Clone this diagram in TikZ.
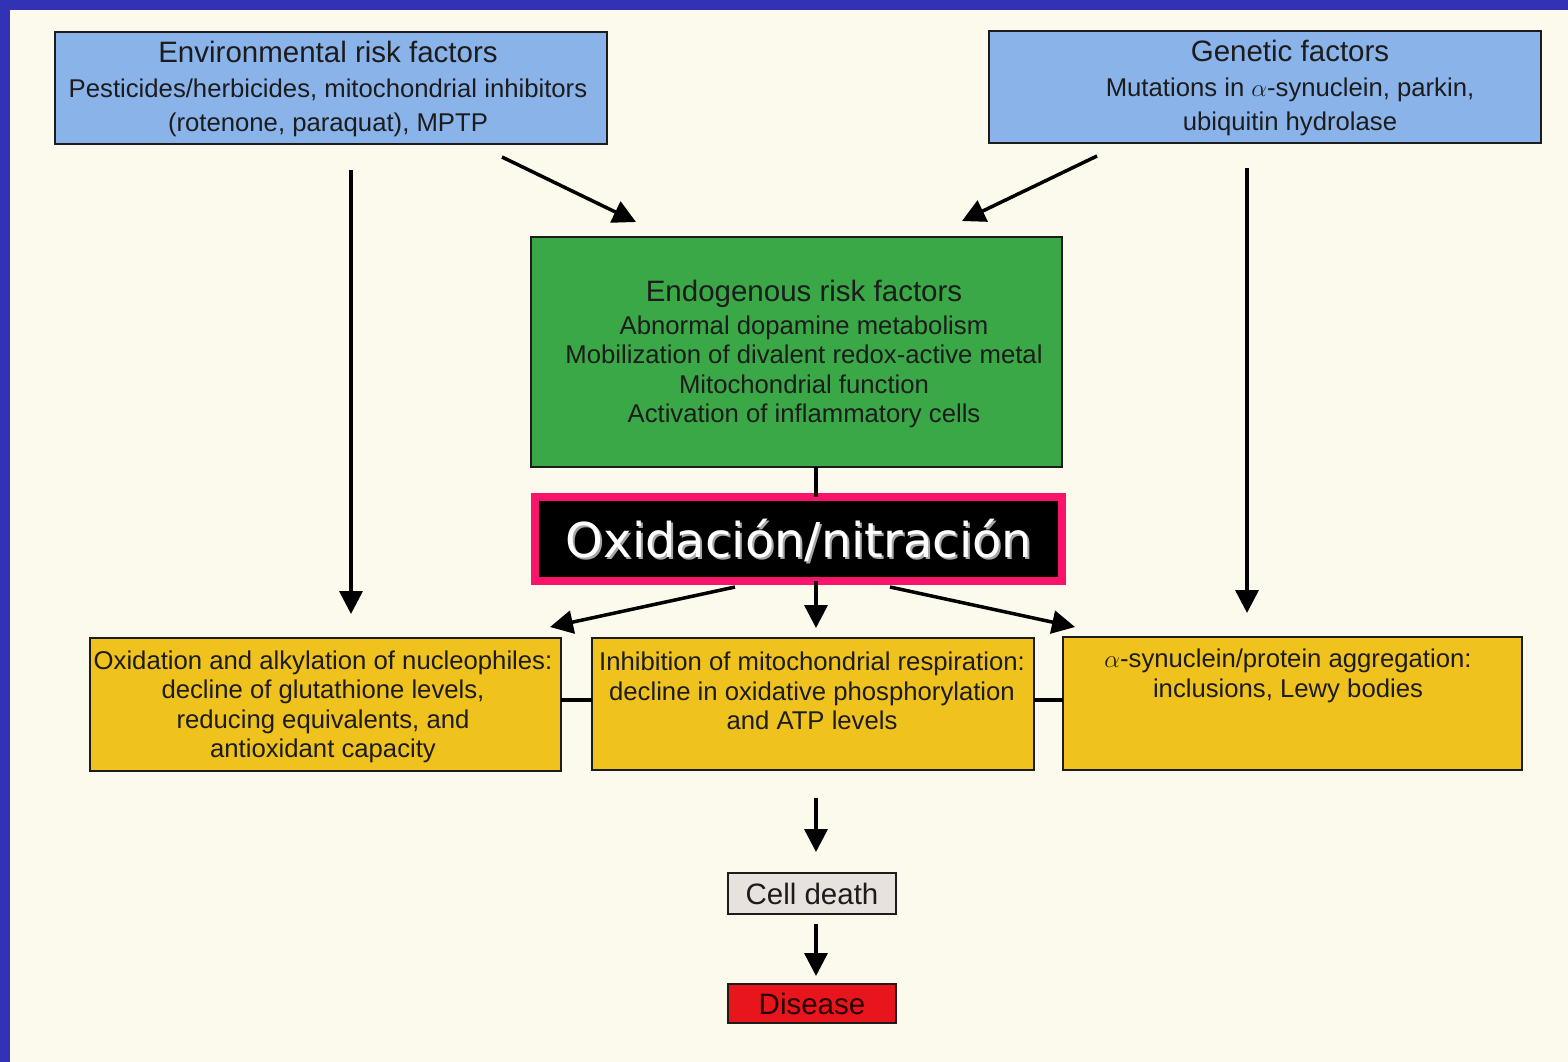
\documentclass[tikz,border=0pt]{standalone}
\usepackage{fontspec}
\setmainfont{Liberation Sans}
\newfontfamily\oxfont{DejaVu Sans}
\usetikzlibrary{arrows.meta,calc}

\definecolor{framebl}{HTML}{3232B4}
\definecolor{paper}{HTML}{FCFAEC}
\definecolor{skyfill}{HTML}{8AB3EA}
\definecolor{leaf}{HTML}{3AA847}
\definecolor{gold}{HTML}{F0C21E}
\definecolor{alarm}{HTML}{E8161C}
\definecolor{ash}{HTML}{E8E2DE}
\definecolor{hotpink}{HTML}{F8146A}
\definecolor{ink}{HTML}{1C1C1C}

\begin{document}
\begin{tikzpicture}[x=1pt,y=-1pt,
  box/.style={draw=ink, line width=1.5pt, inner sep=0pt, outer sep=0pt, anchor=north west},
  txt/.style={text=ink, font=\fontsize{25.7}{29.5}\selectfont, align=center, inner sep=0pt},
  big/.style={font=\fontsize{29.5}{34}\selectfont},
  arr/.style={draw=black, line width=3.5pt, -{Triangle[length=23pt,width=23pt]}},
  bar/.style={draw=black, line width=3.5pt}]

% page and frame
\useasboundingbox (0,0) rectangle (1568,1062);
\fill[paper] (0,0) rectangle (1568,1062);
\fill[framebl] (0,0) rectangle (1568,10);
\fill[framebl] (0,0) rectangle (10,1062);

% top row: external factors
\node[box, fill=skyfill, minimum width=552pt, minimum height=112pt] (env) at (55,32) {};
\node[txt, font=\fontsize{25.7}{34.5}\selectfont] (envT) at (328,89)
  {{\fontsize{29.5}{34}\selectfont Environmental risk factors}\\
   Pesticides/herbicides, mitochondrial inhibitors\\
   (rotenone, paraquat), MPTP};

\node[box, fill=skyfill, minimum width=552pt, minimum height=112pt] (gen) at (989,31) {};
\node[txt, font=\fontsize{25.7}{34.5}\selectfont] (genT) at (1290,88)
  {{\fontsize{29.5}{34}\selectfont Genetic factors}\\
   Mutations in $\alpha$-synuclein, parkin,\\
   ubiquitin hydrolase};

% endogenous factors
\node[box, fill=leaf, minimum width=531pt, minimum height=230pt] (endo) at (531,237) {};
\node[txt] (endoT) at (804,354)
  {{\fontsize{29.5}{34}\selectfont Endogenous risk factors}\\[3pt]
   Abnormal dopamine metabolism\\
   Mobilization of divalent redox-active metal\\
   Mitochondrial function\\
   Activation of inflammatory cells};

% oxidation / nitration banner
\node[draw=hotpink, line width=8pt, fill=black, inner sep=0pt, outer sep=0pt, anchor=north west,
      minimum width=527pt, minimum height=84pt] (ox) at (535,497) {};
\node[text=gray!70, font=\oxfont\fontsize{48}{56}\selectfont, inner sep=0pt] (oxS) at (801,543) {Oxidación/nitración};
\node[text=white, font=\oxfont\fontsize{48}{56}\selectfont, inner sep=0pt] (oxT) at (799,541) {Oxidación/nitración};

% consequences
\node[box, fill=gold, minimum width=471pt, minimum height=133pt] (yl) at (90,638) {};
\node[txt] (ylT) at (323,707)
  {Oxidation and alkylation of nucleophiles:\\
   decline of glutathione levels,\\
   reducing equivalents, and\\
   antioxidant capacity};

\node[box, fill=gold, minimum width=442pt, minimum height=132pt] (ym) at (592,638) {};
\node[txt] (ymT) at (812,691)
  {Inhibition of mitochondrial respiration:\\
   decline in oxidative phosphorylation\\
   and ATP levels};

\node[box, fill=gold, minimum width=459pt, minimum height=133pt] (yr) at (1063,637) {};
\node[txt] (yrT) at (1288,676)
  {$\alpha$-synuclein/protein aggregation:\\
   inclusions, Lewy bodies};

% outcome
\node[box, fill=ash, minimum width=168pt, minimum height=41pt] (cell) at (728,873) {};
\node[txt, big] (cellT) at (cell.center) {Cell death};
\node[box, fill=alarm, minimum width=168pt, minimum height=39pt] (dis) at (728,984) {};
\node[txt, big, text=black!85!red] (disT) at (dis.center) {Disease};

% free ends of the connectors
\coordinate (envDown) at (351,170);
\coordinate (envDiag) at (502,157);
\coordinate (endoInL) at (636,222);
\coordinate (genDiag) at (1097,156);
\coordinate (endoInR) at (962,221);
\coordinate (genDown) at (1247,168);
\coordinate (spine)   at (816,0);
\coordinate (link)    at (0,700);
\coordinate (oxOutL)  at (735,587);
\coordinate (oxOutR)  at (890,587);
\coordinate (ylIn)    at (550,627);
\coordinate (yrIn)    at (1075,627);
\coordinate (ymOut)   at (816,798);
\coordinate (cellOut) at (816,924);

% connectors
\draw[arr, shorten >=24pt] (envDown) -- (envDown |- yl.north);
\draw[arr] (envDiag) -- (endoInL);
\draw[arr] (genDiag) -- (endoInR);
\draw[arr, shorten >=24pt] (genDown) -- (genDown |- yr.north);
\draw[bar] (endo.south -| spine) -- (ox.north -| spine);
\draw[arr] (oxOutL) -- (ylIn);
\draw[arr, shorten >=10pt] (ox.south -| spine) -- (ym.north -| spine);
\draw[arr] (oxOutR) -- (yrIn);
\draw[bar] (yl.east |- link) -- (ym.west |- link);
\draw[bar] (ym.east |- link) -- (yr.west |- link);
\draw[arr, shorten >=21pt] (ymOut) -- (cell.north -| ymOut);
\draw[arr, shorten >=8pt] (cellOut) -- (dis.north -| cellOut);
\end{tikzpicture}
\end{document}
